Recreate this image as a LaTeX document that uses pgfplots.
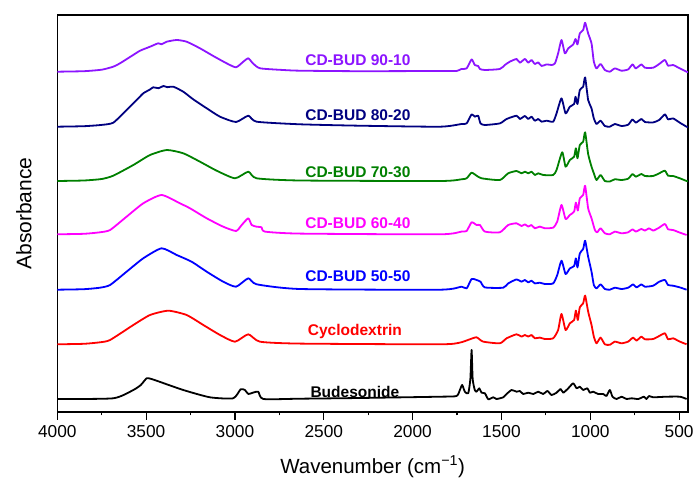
\documentclass[border=0pt]{standalone}
\usepackage{fontspec}
\setmainfont{Liberation Sans}
\usepackage{pgfplots}
\usepackage{pgfplotstable}
\pgfplotsset{compat=1.18}
\definecolor{cviolet}{RGB}{140,20,255}
\definecolor{cnavy}{RGB}{0,0,128}
\definecolor{cgreen}{RGB}{0,128,0}
\definecolor{cmag}{RGB}{255,0,255}
\definecolor{cblue}{RGB}{0,0,255}
\definecolor{cred}{RGB}{255,0,0}

% relative absorbance (above each curve's own baseline)
\pgfplotstableread{
x y
4000 0
3850 0.5
3750 2
3685 5
3647 8.4
3573 16.7
3534 21
3478 25
3432 28.4
3413 27.4
3384 30
3328 31.7
3272 30
3197 23.4
3122 15.7
3047 8.4
2994 4.4
2953 10
2925 13.4
2899 8.4
2859 3.4
2728 1.7
2634 1
2300 0.5
1846 0.7
1753 0.7
1725 2.7
1696 3.3
1668 12.3
1650 6.7
1631 5.7
1621 2.7
1593 1.7
1509 2.7
1481 6.7
1453 10
1415 12.7
1396 9
1368 12.7
1349 9
1331 11.7
1312 7.7
1293 9.3
1274 5.7
1246 7.3
1218 6.7
1199 8.3
1181 18.3
1162 31.7
1143 18.3
1124 23.3
1096 27.3
1083 32.7
1072 27.3
1059 38.3
1040 41.7
1029 49
1012 38.3
993 28.3
980 10
965 3.3
942 7.7
918 1.7
890 0
862 3.3
824 1
787 2.3
762 7.3
744 3.3
712 7.3
693 4
646 4
612 7.7
580 11.7
562 6
534 6.7
496 3.3
458 0
450 -0.5
}\tviolet

\pgfplotstableread{
x y
4000 0
3850 0.5
3750 1.8
3685 4
3610 16.7
3553 26.7
3516 33.4
3480 37
3460 39.4
3430 38.5
3403 40.7
3380 39.5
3347 40
3291 35
3235 27.4
3159 18.4
3084 10
2994 4.7
2925 11
2878 5
2634 2.4
2300 1
1846 0
1725 2.7
1696 3.3
1668 12.3
1650 10
1631 11
1618 3.3
1593 1.7
1509 3.3
1471 7.7
1415 11
1396 7.7
1368 10.7
1349 7.7
1331 10
1312 6
1293 7.7
1274 5
1246 6
1209 5
1190 13.3
1162 28.3
1139 13.3
1115 20
1091 22.7
1083 30
1072 22.7
1059 36.7
1040 40
1029 49.3
1012 26.7
993 18.3
980 8.3
965 2.7
942 6
918 0.7
890 0
862 2.7
824 0.7
787 2
762 7.3
744 4
712 7.7
693 4.7
646 4.3
612 6.7
580 12.3
562 7.3
534 8.3
496 4
458 0
450 -0.5
}\tnavy

\pgfplotstableread{
x y
4000 0
3850 0.5
3750 2
3685 5.3
3572 16
3478 26
3384 31
3291 27.7
3197 19.3
3103 10.3
3000 2.7
2925 9.3
2878 2.7
2634 0.5
1846 0
1725 1.7
1696 2.7
1668 8.3
1640 5.3
1612 2.7
1509 1
1462 7.7
1415 10
1387 7.7
1368 9.3
1349 7.7
1331 9.3
1312 6
1293 7.7
1265 6
1209 6
1190 11
1158 28.7
1139 14.3
1115 21
1091 24.3
1081 32.7
1072 22.7
1059 36
1040 39.3
1029 48.7
1012 27
993 14.3
980 7.7
965 1
942 6
918 0
890 -0.5
862 1.7
824 1
787 2.3
762 7
744 4.3
712 7
693 5
646 5
612 7.7
580 10.3
562 5.3
534 5
496 2.7
458 0
450 -0.3
}\tgreen

\pgfplotstableread{
x y
4000 0
3850 0.5
3760 2
3703 4.3
3610 17.6
3516 31
3413 39.3
3310 31
3253 26
3159 16
3066 7.6
2994 3.3
2962 9.3
2925 16
2906 9.3
2878 7.6
2850 7
2831 2.7
2634 0.7
1846 0
1725 2.7
1696 3.3
1668 12
1640 9.3
1621 9.3
1593 2.7
1509 2
1462 9.3
1415 11
1387 8.3
1368 10
1349 7.7
1331 9.3
1312 6
1284 7.7
1256 6
1209 6.7
1186 12.7
1162 29.3
1139 15.3
1115 19.3
1091 22.7
1081 31.7
1070 23.7
1059 36
1040 39.3
1029 48.6
1012 26
993 16
974 4.3
961 2
942 6
918 1
890 0
862 2.7
824 1
787 2
762 5
744 2.7
712 5.3
693 3.7
669 6
646 3.7
612 6.7
580 10.3
562 5
534 4.3
496 1.7
458 -0.7
}\tmag

\pgfplotstableread{
x y
4000 0
3850 0.5
3760 2
3703 4.7
3610 18
3516 31.4
3413 41.4
3328 34.7
3244 28
3159 18
3066 8
2994 3
2925 11.4
2878 5.4
2634 0.7
1846 0
1725 3
1696 1.3
1668 10.7
1640 9.7
1618 8
1593 2.3
1490 2
1462 6.3
1415 10.3
1387 8
1368 9.7
1349 7.3
1331 9
1312 6.3
1284 7
1256 5.7
1209 6.3
1186 14.7
1162 29
1139 15.7
1115 21.3
1091 23.7
1081 31.3
1072 22.3
1059 36.3
1040 40.7
1029 49
1012 33
993 18
980 4.7
965 1.3
942 5.3
918 0.7
890 0
862 2
824 0.7
787 2
759 5.3
740 2.3
712 5.3
693 3
646 4
612 8
580 9.7
562 4.7
534 4
496 2.3
458 0
}\tblue

\pgfplotstableread{
x y
4000 0
3850 0.5
3760 2
3703 4.3
3572 19.3
3478 29.3
3375 33.6
3272 29.3
3178 19.3
3084 9.3
3000 2.6
2925 10
2859 2.6
2634 0.7
1846 0
1734 1.7
1678 5
1640 7
1603 2.7
1509 1
1471 6
1415 10
1387 7.7
1368 9.3
1349 7.7
1331 9.3
1312 6
1284 6.7
1256 5.3
1209 6
1181 14.3
1162 30.3
1139 14.3
1115 21
1091 24.3
1081 33.7
1070 24.3
1059 37
1040 41
1029 48.7
1012 32.7
993 19.3
980 7.7
965 1
942 6.7
918 0
890 -0.5
862 2.7
824 1
787 2.7
759 6.7
740 3.7
712 7.7
693 5
646 5.3
612 8.3
580 11
562 5
534 6
496 2.7
458 0
}\tred

\pgfplotstableread{
x y
4000 0
3685 0.7
3572 9
3530 14
3497 20.7
3470 20
3441 18.3
3291 9
3141 1.7
3010 0.7
2968 9.7
2944 9
2925 5
2899 6.3
2869 7.3
2840 0
2634 0.3
2300 1
1846 2.3
1753 3
1734 9
1721 14
1706 7.3
1687 5.7
1675 20
1668 49
1662 20
1650 9
1640 7.3
1625 10.7
1612 6.3
1593 5.7
1574 -0.3
1546 1.7
1528 0
1490 1.7
1471 5
1443 9
1415 7.3
1396 8
1378 5
1349 6.3
1321 5
1293 7.3
1265 5
1241 8
1218 4
1190 6.3
1167 10
1152 6.3
1124 10.7
1096 15.7
1077 10.7
1059 12.3
1040 9
1017 10.7
1002 6.3
984 7.3
956 5
927 5
909 3
890 9
875 2.3
852 0
824 2.3
796 0
768 0.7
730 0
698 2.3
684 0
669 3
646 1.7
571 2.3
496 2.3
458 0
}\tblack

\begin{document}
\begin{tikzpicture}
\begin{axis}[
  name=ax,
  at={(0,0)}, anchor=south west,
  scale only axis,
  width=630.7pt, height=397pt,
  x dir=reverse,
  xmin=450, xmax=4000,
  ymin=0, ymax=397,
  xtick={500,1000,...,4000},
  minor x tick num=1,
  ytick=\empty,
  xtick pos=bottom,
  tick align=outside,
  major tick length=7.7pt,
  minor tick length=3.3pt,
  tick style={line width=1.2pt, black},
  axis line style={line width=1.3pt},
  /pgf/number format/assume math mode=true,
  /pgf/number format/set thousands separator={},
  ticklabel style={font=\fontsize{17.3}{20}\selectfont, yshift=-2pt},
  xlabel={Wavenumber (cm\textsuperscript{−1})},
  ylabel={Absorbance},
  every axis x label/.style={at={(axis description cs:0.5,-0.1537)}, anchor=base, font=\fontsize{20.5}{24}\selectfont},
  every axis y label/.style={at={(axis description cs:-0.0528,0.5)}, rotate=90, anchor=center, font=\fontsize{21}{24}\selectfont},
  every axis plot/.append style={line width=1.8pt, line join=round, smooth, tension=0.35},
]
\addplot[cviolet] table[x=x, y expr=\thisrow{y}+340.3] {\tviolet};
\addplot[cnavy]   table[x=x, y expr=\thisrow{y}+285.3] {\tnavy};
\addplot[cgreen]  table[x=x, y expr=\thisrow{y}+231]   {\tgreen};
\addplot[cmag]    table[x=x, y expr=\thisrow{y}+177.7] {\tmag};
\addplot[cblue]   table[x=x, y expr=\thisrow{y}+122.3] {\tblue};
\addplot[cred]    table[x=x, y expr=\thisrow{y}+67.7]  {\tred};
\addplot[black]   table[x=x, y expr=\thisrow{y}+13]    {\tblack};

\begin{scope}[every node/.style={font=\fontsize{15.5}{18}\selectfont\bfseries}]
\node[text=cviolet] at (axis cs:2308,352) {CD-BUD 90-10};
\node[text=cnavy]   at (axis cs:2308,297) {CD-BUD 80-20};
\node[text=cgreen]  at (axis cs:2308,240.3) {CD-BUD 70-30};
\node[text=cmag]    at (axis cs:2308,188.7) {CD-BUD 60-40};
\node[text=cblue]   at (axis cs:2308,136) {CD-BUD 50-50};
\node[text=cred]    at (axis cs:2325,80.3) {Cyclodextrin};
\node[text=black]   at (axis cs:2325,20.3) {Budesonide};
\end{scope}
\end{axis}
\pgfresetboundingbox
\path[use as bounding box] ([shift={(-57.3pt,-70pt)}]ax.south west) rectangle ([shift={(636.7pt,412pt)}]ax.south west);
\end{tikzpicture}
\end{document}
